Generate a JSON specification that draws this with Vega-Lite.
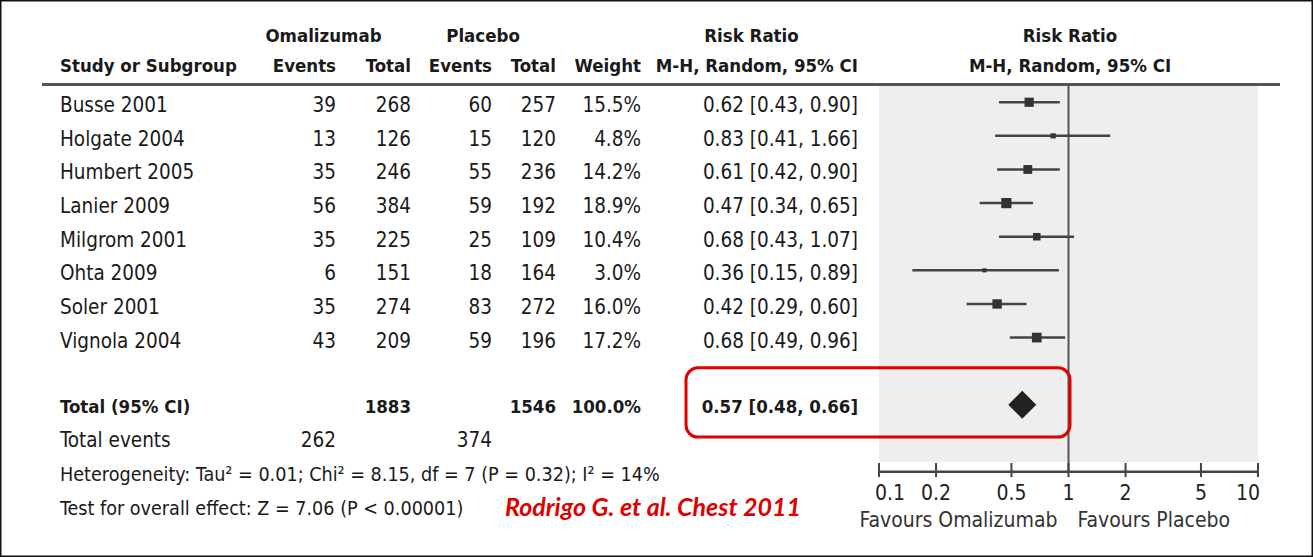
{
  "$schema": "https://vega.github.io/schema/vega-lite/v6.json",
  "width": 1313,
  "height": 557,
  "autosize": {"type": "fit", "contains": "padding"},
  "padding": 0,
  "background": "white",
  "config": {
    "view": {"stroke": "#111111", "strokeWidth": 3},
    "text": {"font": "DejaVu Sans Condensed, DejaVu Sans, sans-serif", "fontSize": 20.5, "color": "#1a1a1a", "baseline": "middle"}
  },
  "datasets": {
    "studies": [
      {"study": "Busse 2001", "row": 2, "e1": 39, "n1": 268, "e2": 60, "n2": 257, "weight": 15.5, "wlab": "15.5%", "rr": 0.62, "lo": 0.43, "hi": 0.90, "ci": "0.62 [0.43, 0.90]"},
      {"study": "Holgate 2004", "row": 3, "e1": 13, "n1": 126, "e2": 15, "n2": 120, "weight": 4.8, "wlab": "4.8%", "rr": 0.83, "lo": 0.41, "hi": 1.66, "ci": "0.83 [0.41, 1.66]"},
      {"study": "Humbert 2005", "row": 4, "e1": 35, "n1": 246, "e2": 55, "n2": 236, "weight": 14.2, "wlab": "14.2%", "rr": 0.61, "lo": 0.42, "hi": 0.90, "ci": "0.61 [0.42, 0.90]"},
      {"study": "Lanier 2009", "row": 5, "e1": 56, "n1": 384, "e2": 59, "n2": 192, "weight": 18.9, "wlab": "18.9%", "rr": 0.47, "lo": 0.34, "hi": 0.65, "ci": "0.47 [0.34, 0.65]"},
      {"study": "Milgrom 2001", "row": 6, "e1": 35, "n1": 225, "e2": 25, "n2": 109, "weight": 10.4, "wlab": "10.4%", "rr": 0.68, "lo": 0.43, "hi": 1.07, "ci": "0.68 [0.43, 1.07]"},
      {"study": "Ohta 2009", "row": 7, "e1": 6, "n1": 151, "e2": 18, "n2": 164, "weight": 3.0, "wlab": "3.0%", "rr": 0.36, "lo": 0.15, "hi": 0.89, "ci": "0.36 [0.15, 0.89]"},
      {"study": "Soler 2001", "row": 8, "e1": 35, "n1": 274, "e2": 83, "n2": 272, "weight": 16.0, "wlab": "16.0%", "rr": 0.42, "lo": 0.29, "hi": 0.60, "ci": "0.42 [0.29, 0.60]"},
      {"study": "Vignola 2004", "row": 9, "e1": 43, "n1": 209, "e2": 59, "n2": 196, "weight": 17.2, "wlab": "17.2%", "rr": 0.68, "lo": 0.49, "hi": 0.96, "ci": "0.68 [0.49, 0.96]"}
    ],
    "total": [
      {"row": 11, "rr": 0.57, "lo": 0.48, "hi": 0.66}
    ],
    "cells": [
      {"g": "h0", "row": 0, "col": 2, "text": "Omalizumab"},
      {"g": "h0", "row": 0, "col": 5, "text": "Placebo"},
      {"g": "h0", "row": 0, "col": 11, "text": "Risk Ratio"},
      {"g": "h0", "row": 0, "col": 13, "text": "Risk Ratio"},
      {"g": "h1l", "row": 1, "col": 1, "text": "Study or Subgroup"},
      {"g": "h1r", "row": 1, "col": 3, "text": "Events"},
      {"g": "h1r", "row": 1, "col": 4, "text": "Total"},
      {"g": "h1r", "row": 1, "col": 6, "text": "Events"},
      {"g": "h1r", "row": 1, "col": 8, "text": "Total"},
      {"g": "h1r", "row": 1, "col": 9, "text": "Weight"},
      {"g": "h1r", "row": 1, "col": 12, "text": "M-H, Random, 95% CI"},
      {"g": "h1c", "row": 1, "col": 13, "text": "M-H, Random, 95% CI"},
      {"g": "tl", "row": 11, "col": 1, "text": "Total (95% CI)"},
      {"g": "tr", "row": 11, "col": 4, "text": "1883"},
      {"g": "tr", "row": 11, "col": 8, "text": "1546"},
      {"g": "tr", "row": 11, "col": 9, "text": "100.0%"},
      {"g": "tr", "row": 11, "col": 12, "text": "0.57 [0.48, 0.66]"},
      {"g": "fl", "row": 12, "col": 1, "text": "Total events"},
      {"g": "fr", "row": 12, "col": 3, "text": "262"},
      {"g": "fr", "row": 12, "col": 6, "text": "374"},
      {"g": "fs", "row": 13, "col": 1, "text": "Heterogeneity: Tau² = 0.01; Chi² = 8.15, df = 7 (P = 0.32); I² = 14%"},
      {"g": "fs", "row": 14, "col": 1, "text": "Test for overall effect: Z = 7.06 (P < 0.00001)"},
      {"g": "cite", "row": 14, "col": 7, "text": "Rodrigo G. et al. Chest 2011"}
    ],
    "ticks": [{"v": 0.1}, {"v": 0.2}, {"v": 0.5}, {"v": 1}, {"v": 2}, {"v": 5}, {"v": 10}],
    "favours": [
      {"side": "left", "label": "Favours Omalizumab"},
      {"side": "right", "label": "Favours Placebo"}
    ],
    "anno": [{}]
  },
  "layer": [
    {
      "layer": [
        {
          "data": {"name": "anno"},
          "mark": {"type": "rule", "color": "#555555", "strokeWidth": 3},
          "encoding": {
            "x": {"datum": 0, "type": "quantitative", "axis": null, "scale": {"type": "linear", "domain": [0,1,2,3,4,5,6,7,8,9,10,11,12,13,14], "range": [42,60,323.5,336,411,483,492,505,556,641,686,751.5,858,1070,1280], "nice": false, "zero": false}},
            "x2": {"datum": 14},
            "y": {"datum": 1.47, "type": "quantitative", "axis": null, "scale": {"domain": [0, 14], "range": [35, 505.7], "nice": false, "zero": false}}
          }
        },
        {
          "data": {"name": "cells"},
          "transform": [{"filter": "datum.g === 'h0'"}],
          "mark": {"type": "text", "align": "center", "fontWeight": "bold", "fontSize": 18.5, "dy": 1},
          "encoding": {
            "x": {"field": "col", "type": "quantitative", "axis": null, "scale": {"type": "linear", "domain": [0,1,2,3,4,5,6,7,8,9,10,11,12,13,14], "range": [42,60,323.5,336,411,483,492,505,556,641,686,751.5,858,1070,1280], "nice": false, "zero": false}},
            "y": {"field": "row", "type": "quantitative", "axis": null, "scale": {"domain": [0, 14], "range": [35, 505.7], "nice": false, "zero": false}},
            "text": {"field": "text"}
          }
        },
        {
          "data": {"name": "cells"},
          "transform": [{"filter": "datum.g === 'h1l'"}],
          "mark": {"type": "text", "align": "left", "fontWeight": "bold", "fontSize": 18.5, "dy": -3},
          "encoding": {
            "x": {"field": "col", "type": "quantitative", "axis": null, "scale": {"type": "linear", "domain": [0,1,2,3,4,5,6,7,8,9,10,11,12,13,14], "range": [42,60,323.5,336,411,483,492,505,556,641,686,751.5,858,1070,1280], "nice": false, "zero": false}},
            "y": {"field": "row", "type": "quantitative", "axis": null, "scale": {"domain": [0, 14], "range": [35, 505.7], "nice": false, "zero": false}},
            "text": {"field": "text"}
          }
        },
        {
          "data": {"name": "cells"},
          "transform": [{"filter": "datum.g === 'h1r'"}],
          "mark": {"type": "text", "align": "right", "fontWeight": "bold", "fontSize": 18.5, "dy": -3},
          "encoding": {
            "x": {"field": "col", "type": "quantitative", "axis": null, "scale": {"type": "linear", "domain": [0,1,2,3,4,5,6,7,8,9,10,11,12,13,14], "range": [42,60,323.5,336,411,483,492,505,556,641,686,751.5,858,1070,1280], "nice": false, "zero": false}},
            "y": {"field": "row", "type": "quantitative", "axis": null, "scale": {"domain": [0, 14], "range": [35, 505.7], "nice": false, "zero": false}},
            "text": {"field": "text"}
          }
        },
        {
          "data": {"name": "cells"},
          "transform": [{"filter": "datum.g === 'h1c'"}],
          "mark": {"type": "text", "align": "center", "fontWeight": "bold", "fontSize": 18.5, "dy": -3},
          "encoding": {
            "x": {"field": "col", "type": "quantitative", "axis": null, "scale": {"type": "linear", "domain": [0,1,2,3,4,5,6,7,8,9,10,11,12,13,14], "range": [42,60,323.5,336,411,483,492,505,556,641,686,751.5,858,1070,1280], "nice": false, "zero": false}},
            "y": {"field": "row", "type": "quantitative", "axis": null, "scale": {"domain": [0, 14], "range": [35, 505.7], "nice": false, "zero": false}},
            "text": {"field": "text"}
          }
        },
        {
          "data": {"name": "cells"},
          "transform": [{"filter": "datum.g === 'tl'"}],
          "mark": {"type": "text", "align": "left", "fontWeight": "bold", "fontSize": 18.5, "dy": 2},
          "encoding": {
            "x": {"field": "col", "type": "quantitative", "axis": null, "scale": {"type": "linear", "domain": [0,1,2,3,4,5,6,7,8,9,10,11,12,13,14], "range": [42,60,323.5,336,411,483,492,505,556,641,686,751.5,858,1070,1280], "nice": false, "zero": false}},
            "y": {"field": "row", "type": "quantitative", "axis": null, "scale": {"domain": [0, 14], "range": [35, 505.7], "nice": false, "zero": false}},
            "text": {"field": "text"}
          }
        },
        {
          "data": {"name": "cells"},
          "transform": [{"filter": "datum.g === 'tr'"}],
          "mark": {"type": "text", "align": "right", "fontWeight": "bold", "fontSize": 18.5, "dy": 2},
          "encoding": {
            "x": {"field": "col", "type": "quantitative", "axis": null, "scale": {"type": "linear", "domain": [0,1,2,3,4,5,6,7,8,9,10,11,12,13,14], "range": [42,60,323.5,336,411,483,492,505,556,641,686,751.5,858,1070,1280], "nice": false, "zero": false}},
            "y": {"field": "row", "type": "quantitative", "axis": null, "scale": {"domain": [0, 14], "range": [35, 505.7], "nice": false, "zero": false}},
            "text": {"field": "text"}
          }
        },
        {
          "data": {"name": "cells"},
          "transform": [{"filter": "datum.g === 'fl'"}],
          "mark": {"type": "text", "align": "left", "dy": 3},
          "encoding": {
            "x": {"field": "col", "type": "quantitative", "axis": null, "scale": {"type": "linear", "domain": [0,1,2,3,4,5,6,7,8,9,10,11,12,13,14], "range": [42,60,323.5,336,411,483,492,505,556,641,686,751.5,858,1070,1280], "nice": false, "zero": false}},
            "y": {"field": "row", "type": "quantitative", "axis": null, "scale": {"domain": [0, 14], "range": [35, 505.7], "nice": false, "zero": false}},
            "text": {"field": "text"}
          }
        },
        {
          "data": {"name": "cells"},
          "transform": [{"filter": "datum.g === 'fs'"}],
          "mark": {"type": "text", "align": "left", "dy": 3, "fontSize": 19.6},
          "encoding": {
            "x": {"field": "col", "type": "quantitative", "axis": null, "scale": {"type": "linear", "domain": [0,1,2,3,4,5,6,7,8,9,10,11,12,13,14], "range": [42,60,323.5,336,411,483,492,505,556,641,686,751.5,858,1070,1280], "nice": false, "zero": false}},
            "y": {"field": "row", "type": "quantitative", "axis": null, "scale": {"domain": [0, 14], "range": [35, 505.7], "nice": false, "zero": false}},
            "text": {"field": "text"}
          }
        },
        {
          "data": {"name": "cells"},
          "transform": [{"filter": "datum.g === 'fr'"}],
          "mark": {"type": "text", "align": "right", "dy": 3},
          "encoding": {
            "x": {"field": "col", "type": "quantitative", "axis": null, "scale": {"type": "linear", "domain": [0,1,2,3,4,5,6,7,8,9,10,11,12,13,14], "range": [42,60,323.5,336,411,483,492,505,556,641,686,751.5,858,1070,1280], "nice": false, "zero": false}},
            "y": {"field": "row", "type": "quantitative", "axis": null, "scale": {"domain": [0, 14], "range": [35, 505.7], "nice": false, "zero": false}},
            "text": {"field": "text"}
          }
        },
        {
          "data": {"name": "cells"},
          "transform": [{"filter": "datum.g === 'cite'"}],
          "mark": {"type": "text", "align": "left", "dy": 2, "font": "Lato, Open Sans, sans-serif", "fontStyle": "italic", "fontWeight": "bold", "fontSize": 25, "color": "#e00000"},
          "encoding": {
            "x": {"field": "col", "type": "quantitative", "axis": null, "scale": {"type": "linear", "domain": [0,1,2,3,4,5,6,7,8,9,10,11,12,13,14], "range": [42,60,323.5,336,411,483,492,505,556,641,686,751.5,858,1070,1280], "nice": false, "zero": false}},
            "y": {"field": "row", "type": "quantitative", "axis": null, "scale": {"domain": [0, 14], "range": [35, 505.7], "nice": false, "zero": false}},
            "text": {"field": "text"}
          }
        },
        {
          "data": {"name": "studies"},
          "mark": {"type": "text", "align": "left", "dy": 4},
          "encoding": {
            "x": {"datum": 1, "type": "quantitative", "axis": null, "scale": {"type": "linear", "domain": [0,1,2,3,4,5,6,7,8,9,10,11,12,13,14], "range": [42,60,323.5,336,411,483,492,505,556,641,686,751.5,858,1070,1280], "nice": false, "zero": false}},
            "y": {"field": "row", "type": "quantitative", "axis": null, "scale": {"domain": [0, 14], "range": [35, 505.7], "nice": false, "zero": false}},
            "text": {"field": "study"}
          }
        },
        {
          "data": {"name": "studies"},
          "mark": {"type": "text", "align": "right", "dy": 4},
          "encoding": {
            "x": {"datum": 3, "type": "quantitative", "axis": null, "scale": {"type": "linear", "domain": [0,1,2,3,4,5,6,7,8,9,10,11,12,13,14], "range": [42,60,323.5,336,411,483,492,505,556,641,686,751.5,858,1070,1280], "nice": false, "zero": false}},
            "y": {"field": "row", "type": "quantitative", "axis": null, "scale": {"domain": [0, 14], "range": [35, 505.7], "nice": false, "zero": false}},
            "text": {"field": "e1", "type": "quantitative"}
          }
        },
        {
          "data": {"name": "studies"},
          "mark": {"type": "text", "align": "right", "dy": 4},
          "encoding": {
            "x": {"datum": 4, "type": "quantitative", "axis": null, "scale": {"type": "linear", "domain": [0,1,2,3,4,5,6,7,8,9,10,11,12,13,14], "range": [42,60,323.5,336,411,483,492,505,556,641,686,751.5,858,1070,1280], "nice": false, "zero": false}},
            "y": {"field": "row", "type": "quantitative", "axis": null, "scale": {"domain": [0, 14], "range": [35, 505.7], "nice": false, "zero": false}},
            "text": {"field": "n1", "type": "quantitative"}
          }
        },
        {
          "data": {"name": "studies"},
          "mark": {"type": "text", "align": "right", "dy": 4},
          "encoding": {
            "x": {"datum": 6, "type": "quantitative", "axis": null, "scale": {"type": "linear", "domain": [0,1,2,3,4,5,6,7,8,9,10,11,12,13,14], "range": [42,60,323.5,336,411,483,492,505,556,641,686,751.5,858,1070,1280], "nice": false, "zero": false}},
            "y": {"field": "row", "type": "quantitative", "axis": null, "scale": {"domain": [0, 14], "range": [35, 505.7], "nice": false, "zero": false}},
            "text": {"field": "e2", "type": "quantitative"}
          }
        },
        {
          "data": {"name": "studies"},
          "mark": {"type": "text", "align": "right", "dy": 4},
          "encoding": {
            "x": {"datum": 8, "type": "quantitative", "axis": null, "scale": {"type": "linear", "domain": [0,1,2,3,4,5,6,7,8,9,10,11,12,13,14], "range": [42,60,323.5,336,411,483,492,505,556,641,686,751.5,858,1070,1280], "nice": false, "zero": false}},
            "y": {"field": "row", "type": "quantitative", "axis": null, "scale": {"domain": [0, 14], "range": [35, 505.7], "nice": false, "zero": false}},
            "text": {"field": "n2", "type": "quantitative"}
          }
        },
        {
          "data": {"name": "studies"},
          "mark": {"type": "text", "align": "right", "dy": 4},
          "encoding": {
            "x": {"datum": 9, "type": "quantitative", "axis": null, "scale": {"type": "linear", "domain": [0,1,2,3,4,5,6,7,8,9,10,11,12,13,14], "range": [42,60,323.5,336,411,483,492,505,556,641,686,751.5,858,1070,1280], "nice": false, "zero": false}},
            "y": {"field": "row", "type": "quantitative", "axis": null, "scale": {"domain": [0, 14], "range": [35, 505.7], "nice": false, "zero": false}},
            "text": {"field": "wlab"}
          }
        },
        {
          "data": {"name": "studies"},
          "mark": {"type": "text", "align": "right", "dy": 4},
          "encoding": {
            "x": {"datum": 12, "type": "quantitative", "axis": null, "scale": {"type": "linear", "domain": [0,1,2,3,4,5,6,7,8,9,10,11,12,13,14], "range": [42,60,323.5,336,411,483,492,505,556,641,686,751.5,858,1070,1280], "nice": false, "zero": false}},
            "y": {"field": "row", "type": "quantitative", "axis": null, "scale": {"domain": [0, 14], "range": [35, 505.7], "nice": false, "zero": false}},
            "text": {"field": "ci"}
          }
        }
      ]
    },
    {
      "layer": [
        {
          "data": {"name": "anno"},
          "mark": {"type": "rect", "color": "#eeeeee"},
          "encoding": {
            "x": {"datum": 0.1, "type": "quantitative", "axis": null, "scale": {"type": "log", "domain": [0.1, 10], "range": [879, 1258], "nice": false}},
            "x2": {"datum": 10},
            "y": {"datum": 1.52, "type": "quantitative", "axis": null, "scale": {"domain": [0, 14], "range": [35, 505.7], "nice": false, "zero": false}},
            "y2": {"datum": 12.7}
          }
        },
        {
          "data": {"name": "anno"},
          "mark": {"type": "rule", "color": "#555555", "strokeWidth": 2},
          "encoding": {
            "x": {"datum": 1, "type": "quantitative", "axis": null, "scale": {"type": "log", "domain": [0.1, 10], "range": [879, 1258], "nice": false}},
            "y": {"datum": 1.52, "type": "quantitative", "axis": null, "scale": {"domain": [0, 14], "range": [35, 505.7], "nice": false, "zero": false}},
            "y2": {"datum": 12.99}
          }
        },
        {
          "data": {"name": "anno"},
          "mark": {"type": "rule", "color": "#444444", "strokeWidth": 2.5},
          "encoding": {
            "x": {"datum": 0.1, "type": "quantitative", "axis": null, "scale": {"type": "log", "domain": [0.1, 10], "range": [879, 1258], "nice": false}},
            "x2": {"datum": 10},
            "y": {"datum": 12.99, "type": "quantitative", "axis": null, "scale": {"domain": [0, 14], "range": [35, 505.7], "nice": false, "zero": false}}
          }
        },
        {
          "data": {"name": "studies"},
          "mark": {"type": "rule", "color": "#444444", "strokeWidth": 2.5},
          "encoding": {
            "x": {"field": "lo", "type": "quantitative", "axis": null, "scale": {"type": "log", "domain": [0.1, 10], "range": [879, 1258], "nice": false}},
            "x2": {"field": "hi"},
            "y": {"field": "row", "type": "quantitative", "axis": null, "scale": {"domain": [0, 14], "range": [35, 505.7], "nice": false, "zero": false}}
          }
        },
        {
          "data": {"name": "studies"},
          "mark": {"type": "point", "shape": "square", "filled": true, "opacity": 1, "color": "#333333"},
          "encoding": {
            "x": {"field": "rr", "type": "quantitative", "axis": null, "scale": {"type": "log", "domain": [0.1, 10], "range": [879, 1258], "nice": false}},
            "y": {"field": "row", "type": "quantitative", "axis": null, "scale": {"domain": [0, 14], "range": [35, 505.7], "nice": false, "zero": false}},
            "size": {"field": "weight", "type": "quantitative", "legend": null, "scale": {"type": "linear", "domain": [0, 20], "range": [0, 110], "zero": true}}
          }
        },
        {
          "data": {"name": "total"},
          "mark": {"type": "point", "shape": "diamond", "filled": true, "opacity": 1, "color": "#222222", "size": 784},
          "encoding": {
            "x": {"field": "rr", "type": "quantitative", "axis": null, "scale": {"type": "log", "domain": [0.1, 10], "range": [879, 1258], "nice": false}},
            "y": {"field": "row", "type": "quantitative", "axis": null, "scale": {"domain": [0, 14], "range": [35, 505.7], "nice": false, "zero": false}}
          }
        },
        {
          "data": {"name": "ticks"},
          "mark": {"type": "rule", "color": "#444444", "strokeWidth": 2},
          "encoding": {
            "x": {"field": "v", "type": "quantitative", "axis": null, "scale": {"type": "log", "domain": [0.1, 10], "range": [879, 1258], "nice": false}},
            "y": {"datum": 12.73, "type": "quantitative", "axis": null, "scale": {"domain": [0, 14], "range": [35, 505.7], "nice": false, "zero": false}},
            "y2": {"datum": 13.15}
          }
        },
        {
          "data": {"name": "ticks"},
          "transform": [{"filter": "datum.v > 0.15 && datum.v < 9"}],
          "mark": {"type": "text", "align": "center", "dy": 1.5, "fontSize": 21, "color": "#222222"},
          "encoding": {
            "x": {"field": "v", "type": "quantitative", "axis": null, "scale": {"type": "log", "domain": [0.1, 10], "range": [879, 1258], "nice": false}},
            "y": {"datum": 13.61, "type": "quantitative", "axis": null, "scale": {"domain": [0, 14], "range": [35, 505.7], "nice": false, "zero": false}},
            "text": {"field": "v", "type": "quantitative", "format": "~g"}
          }
        },
        {
          "data": {"name": "ticks"},
          "transform": [{"filter": "datum.v < 0.15"}],
          "mark": {"type": "text", "align": "left", "dx": -4, "dy": 1.5, "fontSize": 21, "color": "#222222"},
          "encoding": {
            "x": {"field": "v", "type": "quantitative", "axis": null, "scale": {"type": "log", "domain": [0.1, 10], "range": [879, 1258], "nice": false}},
            "y": {"datum": 13.61, "type": "quantitative", "axis": null, "scale": {"domain": [0, 14], "range": [35, 505.7], "nice": false, "zero": false}},
            "text": {"field": "v", "type": "quantitative", "format": "~g"}
          }
        },
        {
          "data": {"name": "ticks"},
          "transform": [{"filter": "datum.v > 9"}],
          "mark": {"type": "text", "align": "right", "dx": 2, "dy": 1.5, "fontSize": 21, "color": "#222222"},
          "encoding": {
            "x": {"field": "v", "type": "quantitative", "axis": null, "scale": {"type": "log", "domain": [0.1, 10], "range": [879, 1258], "nice": false}},
            "y": {"datum": 13.61, "type": "quantitative", "axis": null, "scale": {"domain": [0, 14], "range": [35, 505.7], "nice": false, "zero": false}},
            "text": {"field": "v", "type": "quantitative", "format": "~g"}
          }
        },
        {
          "data": {"name": "favours"},
          "transform": [{"filter": "datum.side === 'left'"}],
          "mark": {"type": "text", "align": "right", "dx": -11, "dy": 1.4, "fontSize": 21, "color": "#333333"},
          "encoding": {
            "x": {"datum": 1, "type": "quantitative", "axis": null, "scale": {"type": "log", "domain": [0.1, 10], "range": [879, 1258], "nice": false}},
            "y": {"datum": 14.4, "type": "quantitative", "axis": null, "scale": {"domain": [0, 14], "range": [35, 505.7], "nice": false, "zero": false}},
            "text": {"field": "label"}
          }
        },
        {
          "data": {"name": "favours"},
          "transform": [{"filter": "datum.side === 'right'"}],
          "mark": {"type": "text", "align": "left", "dx": 9, "dy": 1.4, "fontSize": 21, "color": "#333333"},
          "encoding": {
            "x": {"datum": 1, "type": "quantitative", "axis": null, "scale": {"type": "log", "domain": [0.1, 10], "range": [879, 1258], "nice": false}},
            "y": {"datum": 14.4, "type": "quantitative", "axis": null, "scale": {"domain": [0, 14], "range": [35, 505.7], "nice": false, "zero": false}},
            "text": {"field": "label"}
          }
        }
      ]
    },
    {
      "data": {"name": "anno"},
      "mark": {"type": "rect", "fill": null, "filled": false, "stroke": "#e00000", "strokeWidth": 3, "cornerRadius": 12},
      "encoding": {
        "x": {"datum": 10, "type": "quantitative", "axis": null, "scale": {"type": "linear", "domain": [0,1,2,3,4,5,6,7,8,9,10,11,12,13,14], "range": [42,60,323.5,336,411,483,492,505,556,641,686,751.5,858,1070,1280], "nice": false, "zero": false}},
        "x2": {"datum": 13},
        "y": {"datum": 9.9, "type": "quantitative", "axis": null, "scale": {"domain": [0, 14], "range": [35, 505.7], "nice": false, "zero": false}},
        "y2": {"datum": 11.96}
      }
    }
  ],
  "resolve": {"scale": {"x": "independent"}, "axis": {"x": "independent"}}
}
